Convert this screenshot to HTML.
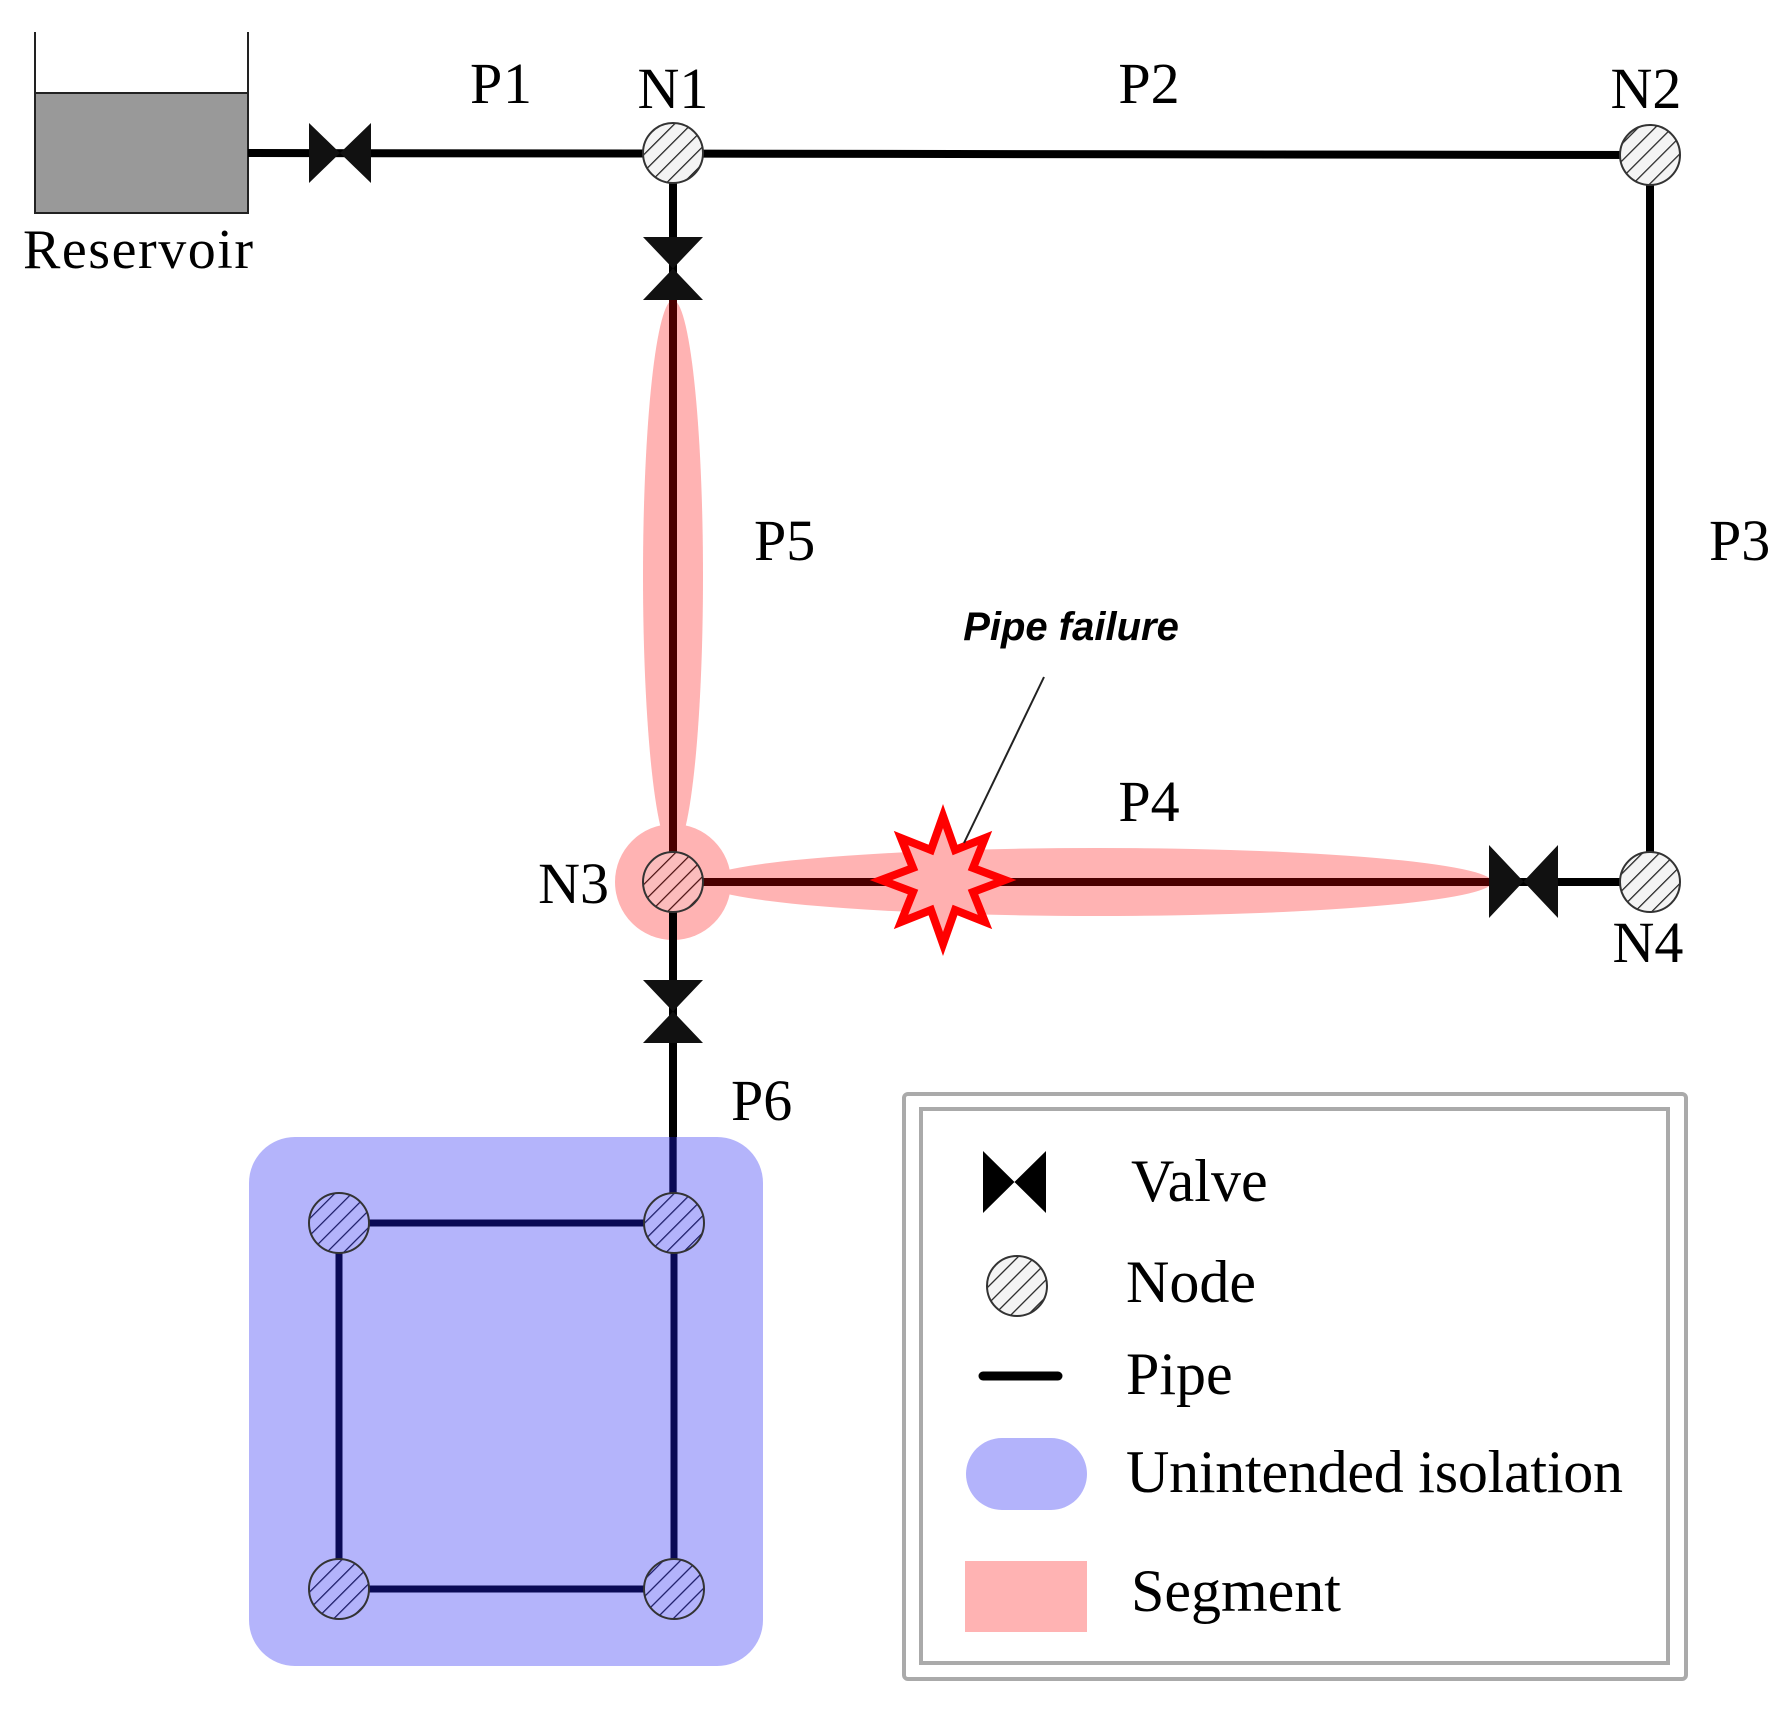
<!DOCTYPE html>
<html><head><meta charset="utf-8"><style>html,body{margin:0;padding:0;background:#fff}svg{display:block}</style></head>
<body>
<svg width="1792" height="1712" viewBox="0 0 1792 1712" xmlns="http://www.w3.org/2000/svg">
<defs>
<pattern id="h" patternUnits="userSpaceOnUse" width="12" height="12" patternTransform="rotate(45)">
<rect width="12" height="12" fill="#f4f4f4"/><line x1="0" y1="0" x2="0" y2="12" stroke="#222" stroke-width="2.5"/></pattern>
<pattern id="hp" patternUnits="userSpaceOnUse" width="12" height="12" patternTransform="rotate(45)">
<rect width="12" height="12" fill="#fbbcbc"/><line x1="0" y1="0" x2="0" y2="12" stroke="#4a1010" stroke-width="2.5"/></pattern>
<pattern id="hb" patternUnits="userSpaceOnUse" width="12" height="12" patternTransform="rotate(45)">
<rect width="12" height="12" fill="#b3b3fb"/><line x1="0" y1="0" x2="0" y2="12" stroke="#1a1a66" stroke-width="2.5"/></pattern>
</defs>
<g font-family="Liberation Serif, serif" fill="#000">
<!-- reservoir -->
<rect x="35" y="93" width="213" height="120" fill="#999" stroke="#222" stroke-width="2"/>
<line x1="35" y1="32" x2="35" y2="93" stroke="#222" stroke-width="2"/>
<line x1="248" y1="32" x2="248" y2="93" stroke="#222" stroke-width="2"/>
<text x="23" y="268" font-size="56" textLength="230">Reservoir</text>

<!-- pink segment -->
<g fill="#ffb3b3">
<ellipse cx="673" cy="576" rx="30" ry="276"/>
<ellipse cx="1097" cy="882" rx="395" ry="34"/>
<circle cx="673" cy="882" r="58"/>
</g>

<!-- pipes -->
<line x1="248" y1="153" x2="1650" y2="155" stroke="#000" stroke-width="8"/>
<line x1="1650" y1="155" x2="1650" y2="882" stroke="#000" stroke-width="8"/>
<line x1="1489" y1="882" x2="1650" y2="882" stroke="#000" stroke-width="8"/>
<line x1="673" y1="153" x2="673" y2="300" stroke="#000" stroke-width="8"/>
<line x1="673" y1="300" x2="673" y2="882" stroke="#4a0000" stroke-width="8"/>
<line x1="673" y1="882" x2="673" y2="1223" stroke="#000" stroke-width="8"/>
<line x1="673" y1="882" x2="1489" y2="882" stroke="#4a0000" stroke-width="8"/>

<!-- blue isolation -->
<rect x="249" y="1137" width="514" height="529" rx="46" fill="#9b9bfa" opacity="0.75"/>
<g stroke="#0a0a55" stroke-width="7" fill="none">
<rect x="339" y="1223" width="335" height="366"/>
<line x1="673" y1="1137" x2="673" y2="1223"/>
</g>

<!-- valves -->
<g fill="#111">
<polygon points="309,123 309,183 371,123 371,183"/>
<polygon points="643,237 703,237 643,300 703,300"/>
<polygon points="643,980 703,980 643,1043 703,1043"/>
<polygon points="1489,845 1489,918 1558,845 1558,918"/>
</g>

<!-- nodes -->
<g stroke="#333" stroke-width="2">
<circle cx="673" cy="153" r="30" fill="url(#h)"/>
<circle cx="1650" cy="155" r="30" fill="url(#h)"/>
<circle cx="1650" cy="882" r="30" fill="url(#h)"/>
<circle cx="673" cy="882" r="30" fill="url(#hp)"/>
<circle cx="339" cy="1223" r="30" fill="url(#hb)"/>
<circle cx="674" cy="1223" r="30" fill="url(#hb)"/>
<circle cx="339" cy="1589" r="30" fill="url(#hb)"/>
<circle cx="674" cy="1589" r="30" fill="url(#hb)"/>
</g>

<!-- star -->
<polygon fill="#ffb0b0" stroke="#ff0000" stroke-width="8" stroke-linejoin="miter"
points="943,816 955,850 985,838 973,868 1005,880 973,892 985,922 955,910 943,944 931,910 901,922 913,892 881,880 913,868 901,838 931,850"/>
<line x1="1044" y1="677" x2="964" y2="843" stroke="#222" stroke-width="2"/>
<text x="1071" y="640" font-family="Liberation Sans, sans-serif" font-weight="bold" font-style="italic" font-size="40" text-anchor="middle">Pipe failure</text>

<!-- labels -->
<g font-size="58">
<text x="470" y="103" textLength="62">P1</text>
<text x="673" y="108" text-anchor="middle">N1</text>
<text x="1149" y="103" text-anchor="middle">P2</text>
<text x="1646" y="108" text-anchor="middle">N2</text>
<text x="1709" y="560">P3</text>
<text x="754" y="560">P5</text>
<text x="1149" y="821" text-anchor="middle">P4</text>
<text x="609" y="903" text-anchor="end">N3</text>
<text x="1648" y="962" text-anchor="middle">N4</text>
<text x="731" y="1120">P6</text>
</g>

<!-- legend -->
<rect x="904" y="1094" width="782" height="585" fill="#fff" stroke="#aaa" stroke-width="4" rx="4"/>
<rect x="921" y="1109" width="747" height="554" fill="none" stroke="#aaa" stroke-width="4"/>
<polygon points="983,1151 983,1213 1046,1151 1046,1213" fill="#000"/>
<circle cx="1017" cy="1286" r="30" fill="url(#h)" stroke="#333" stroke-width="2"/>
<line x1="983" y1="1376" x2="1058" y2="1376" stroke="#000" stroke-width="9" stroke-linecap="round"/>
<rect x="966" y="1438" width="121" height="72" rx="36" fill="#b3b3fb"/>
<rect x="965" y="1561" width="122" height="71" fill="#ffb3b3"/>
<g font-size="60">
<text x="1131" y="1201">Valve</text>
<text x="1126" y="1302">Node</text>
<text x="1126" y="1394">Pipe</text>
<text x="1126" y="1492" textLength="497">Unintended isolation</text>
<text x="1131" y="1611">Segment</text>
</g>
</g>
</svg>
</body></html>
